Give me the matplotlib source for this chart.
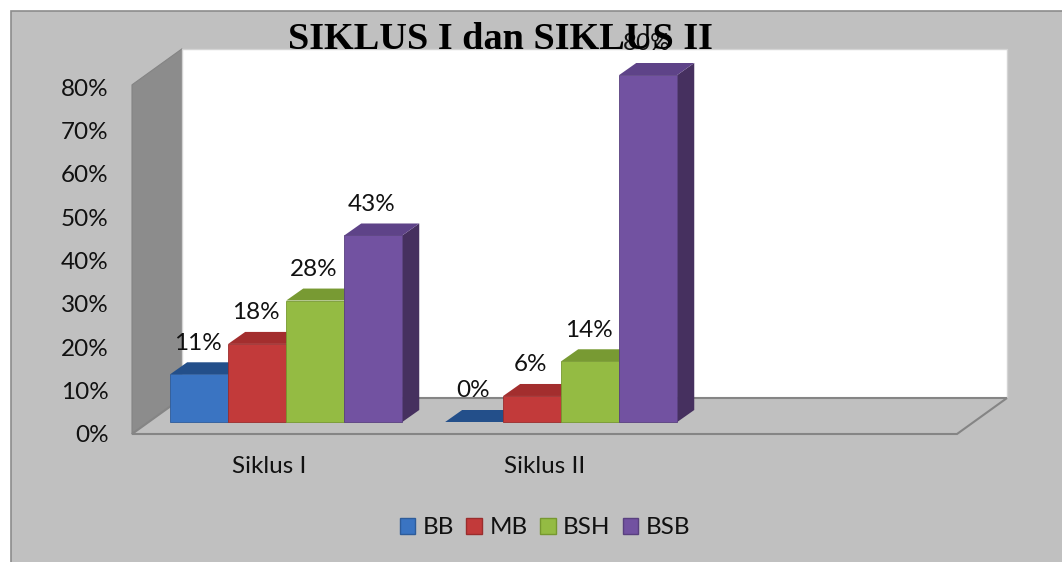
import matplotlib
matplotlib.use("Agg")
import matplotlib.pyplot as plt
from matplotlib.patches import Polygon, Rectangle, Patch

matplotlib.rcParams["font.family"] = ["Lato", "DejaVu Sans"]

# data
categories = ["Siklus I", "Siklus II"]
series = ["BB", "MB", "BSH", "BSB"]
bb = [11, 0]
mb = [18, 6]
bsh = [28, 14]
bsb = [43, 80]
y_ticks = [0, 10, 20, 30, 40, 50, 60, 70, 80]
title = "SIKLUS I dan SIKLUS II"

FRONT = ["#3A74C2", "#C23A3A", "#94BB43", "#7252A1"]
TOP = ["#234F8A", "#A32E2E", "#789A33", "#5E4388"]
SIDE = ["#1F4270", "#862626", "#5F7D27", "#46305F"]
EDGE = ["#2E5C9A", "#9A2C2C", "#76982F", "#59407F"]
FS = 17.5

W, H = 1062, 562
AX_L, AX_R, AX_B, AX_T = 132, 957, 434, 87
PX_X = (AX_R - AX_L) / 3.0          # px per category
PX_Y = (AX_B - AX_T) / 80.0         # px per percent


def dxu(px):
    return px / PX_X


def dyu(px):
    return px / PX_Y


fig = plt.figure(figsize=(W / 100, H / 100), dpi=100, facecolor="white")
fig.add_artist(Rectangle((11 / W, -0.01), 1.0, (H - 11) / H + 0.01, transform=fig.transFigure,
                         facecolor="#C0C0C0", edgecolor="#8C8C8C", lw=1.2, zorder=0))

ax = fig.add_axes([AX_L / W, (H - AX_B) / H, (AX_R - AX_L) / W, (AX_B - AX_T) / H])
ax.set_xlim(-0.5, 2.5)
ax.set_ylim(0, 80)
ax.patch.set_visible(False)
for s in ax.spines.values():
    s.set_visible(False)

# walls + floor
xl, xr = -0.5, 2.5
DX, DY = dxu(50), dyu(36)
wall_top = 80.5
ax.add_patch(Polygon([(xl, 0), (xl, wall_top), (xl + DX, wall_top + DY), (xl + DX, DY)],
                     closed=True, facecolor="#8C8C8C", edgecolor="#848484", lw=0.8,
                     clip_on=False, zorder=1))
ax.add_patch(Rectangle((xl + DX, DY), xr - xl, wall_top, facecolor="white",
                       edgecolor="#D4D4D4", lw=1.0, clip_on=False, zorder=1))
ax.add_patch(Polygon([(xl, 0), (xr, 0), (xr + DX, DY), (xl + DX, DY)], closed=True,
                     facecolor="#C0C0C0", edgecolor="#858585", lw=1.5, clip_on=False, zorder=1.5))

# bars with faux 3D faces
bw = 0.211
ofx, ofy = dxu(16.7), dyu(12)
bdx, bdy = dxu(17), dyu(12)
values = [bb, mb, bsh, bsb]
z = 3.0
for j, cat in enumerate(categories):
    for i, vals in enumerate(values):
        v = vals[j]
        x0 = j + (i - 2) * bw + ofx
        yt = ofy + v
        if v > 0:
            ax.add_patch(Polygon([(x0 + bw, ofy), (x0 + bw, yt), (x0 + bw + bdx, yt + bdy),
                                  (x0 + bw + bdx, ofy + bdy)], closed=True,
                                 facecolor=SIDE[i], edgecolor="none", clip_on=False, zorder=z))
        ax.add_patch(Polygon([(x0, yt), (x0 + bw, yt), (x0 + bw + bdx, yt + bdy), (x0 + bdx, yt + bdy)],
                             closed=True, facecolor=TOP[i], edgecolor="none", clip_on=False, zorder=z + 0.01))
        if v > 0:
            ax.bar(x0, v, width=bw, bottom=ofy, align="edge", color=FRONT[i],
                   edgecolor=EDGE[i], lw=0.6, clip_on=False, zorder=z + 0.02)
        ax.annotate(f"{v}%", (x0 + bw / 2, yt), xytext=(-1, 22.5), textcoords="offset points",
                    ha="center", va="center", fontsize=FS, color="#111111", zorder=10,
                    annotation_clip=False)
        z += 0.1

ax.set_yticks(y_ticks)
ax.set_yticklabels([f"{t}%" for t in y_ticks])
ax.set_xticks(range(len(categories)))
ax.set_xticklabels(categories)
ax.tick_params(axis="y", length=0, pad=17, labelsize=FS, labelcolor="#111111")
ax.tick_params(axis="x", length=0, pad=16, labelsize=FS, labelcolor="#111111")

fig.text(500 / W, 1 - 49 / H, title, ha="center", va="baseline", fontsize=27.5,
         fontweight="bold", family=["Liberation Serif", "DejaVu Serif"], color="black", zorder=5)

handles = [Patch(facecolor=FRONT[i], edgecolor=EDGE[i], label=series[i]) for i in range(4)]
fig.legend(handles=handles, loc="center", bbox_to_anchor=(545 / W, 1 - 528 / H), ncol=4,
           frameon=False, fontsize=FS, handlelength=0.65, handleheight=0.65,
           handletextpad=0.3, columnspacing=0.5, labelcolor="#111111")

fig.savefig("out.png", dpi=100, facecolor=fig.get_facecolor())
